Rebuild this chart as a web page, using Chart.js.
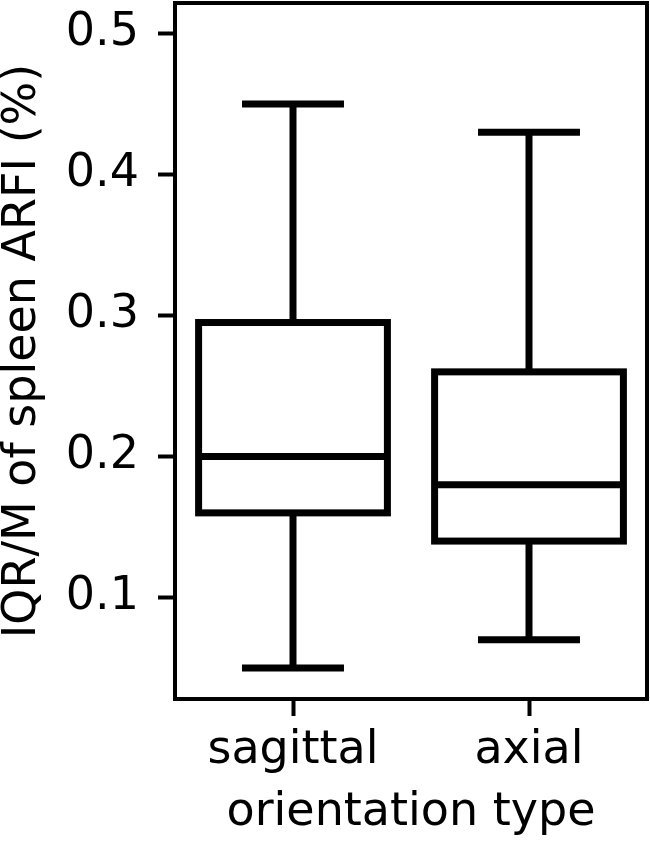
<!DOCTYPE html>
<html>
<head>
<meta charset="utf-8">
<script src="https://cdn.jsdelivr.net/npm/chart.js@4.4.1/dist/chart.umd.min.js"></script>
<style>
  html, body { margin: 0; padding: 0; background: #fff; }
</style>
</head>
<body>
<canvas id="box" width="650" height="845"></canvas>
<script>
// box plot values
var categories = ['sagittal', 'axial'];
var whiskerLow = [0.05, 0.07];
var q1 = [0.16, 0.14];
var median = [0.20, 0.18];
var q3 = [0.295, 0.26];
var whiskerHigh = [0.45, 0.43];
var yTicks = [0.1, 0.2, 0.3, 0.4, 0.5];
var yMin = 0.028, yMax = 0.5216;

var FONT = 'DejaVu Sans';
var LW = 7;

// whiskers, caps, medians and box outlines, placed through the scales
var boxLines = {
  id: 'boxLines',
  afterDatasetsDraw: function(chart) {
    var ctx = chart.ctx, y = chart.scales.y, area = chart.chartArea;
    var meta = chart.getDatasetMeta(0);
    ctx.save();
    ctx.strokeStyle = '#000';
    ctx.lineCap = 'butt';
    ctx.lineWidth = LW;
    meta.data.forEach(function(bar, i) {
      var cx = bar.x, half = bar.width / 2, cap = bar.width * 0.27;
      var yLo = y.getPixelForValue(whiskerLow[i]);
      var yQ1 = y.getPixelForValue(q1[i]);
      var yMed = y.getPixelForValue(median[i]);
      var yQ3 = y.getPixelForValue(q3[i]);
      var yHi = y.getPixelForValue(whiskerHigh[i]);
      ctx.beginPath();
      // whiskers
      ctx.moveTo(cx, yQ3); ctx.lineTo(cx, yHi);
      ctx.moveTo(cx, yQ1); ctx.lineTo(cx, yLo);
      // caps
      ctx.moveTo(cx - cap, yHi); ctx.lineTo(cx + cap, yHi);
      ctx.moveTo(cx - cap, yLo); ctx.lineTo(cx + cap, yLo);
      // median
      ctx.moveTo(cx - half, yMed); ctx.lineTo(cx + half, yMed);
      ctx.stroke();
      ctx.strokeRect(cx - half, yQ3, bar.width, yQ1 - yQ3);
    });
    // axes frame
    ctx.lineWidth = 4;
    ctx.strokeRect(area.left, area.top, area.right - area.left, area.bottom - area.top);
    ctx.restore();
  }
};

new Chart(document.getElementById('box'), {
  type: 'bar',
  data: {
    labels: categories,
    datasets: [{
      data: categories.map(function(c, i) { return [q1[i], q3[i]]; }),
      backgroundColor: '#fff',
      borderWidth: 0,
      barPercentage: 0.8,
      categoryPercentage: 1
    }]
  },
  options: {
    responsive: false,
    animation: false,
    devicePixelRatio: 1,
    layout: { padding: { top: 3, right: 3, left: 0, bottom: 0 } },
    plugins: { legend: { display: false }, tooltip: { enabled: false } },
    scales: {
      x: {
        grid: { display: true, offset: false, drawOnChartArea: false, tickLength: 17, tickWidth: 4, tickColor: '#000' },
        border: { display: false },
        ticks: { color: '#000', font: { family: FONT, size: 46, lineHeight: 1 }, padding: 12, maxRotation: 0, autoSkip: false },
        title: { display: true, text: 'orientation type', color: '#000', font: { family: FONT, size: 46, lineHeight: 1 }, padding: { top: 0, bottom: 9 } },
        afterFit: function(scale) {
          scale.height = 146;
          scale.paddingLeft = 0; scale.paddingRight = 0;
        }
      },
      y: {
        min: yMin,
        max: yMax,
        grid: { display: true, drawOnChartArea: false, tickLength: 17, tickWidth: 4, tickColor: '#000' },
        border: { display: false },
        ticks: {
          color: '#000', font: { family: FONT, size: 46, lineHeight: 1 }, padding: 19,
          callback: function(v) { return v.toFixed(1); }
        },
        afterBuildTicks: function(scale) { scale.ticks = yTicks.map(function(v) { return { value: v }; }); },
        title: { display: true, text: 'IQR/M of spleen ARFI (%)', color: '#000', font: { family: FONT, size: 46, lineHeight: 1 }, padding: { top: 0, bottom: 0 } },
        afterFit: function(scale) {
          scale.width = 175;
          scale.paddingTop = 0; scale.paddingBottom = 0;
        }
      }
    }
  },
  plugins: [boxLines]
});
</script>
</body>
</html>
